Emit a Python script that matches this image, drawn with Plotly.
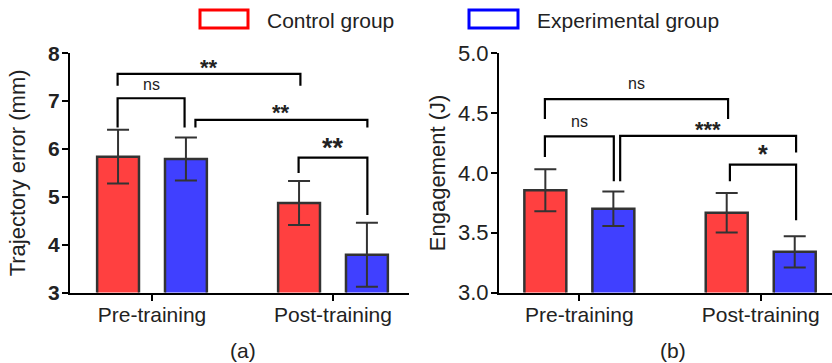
import plotly.graph_objects as go

# ---------------- data ----------------
categories = ["Pre-training", "Post-training"]
groups = ["Control group", "Experimental group"]

traj_control = [5.84, 4.87]
traj_control_err = [0.56, 0.46]
traj_exp = [5.79, 3.79]
traj_exp_err = [0.45, 0.67]

eng_control = [3.855, 3.667]
eng_control_err = [0.175, 0.165]
eng_exp = [3.70, 3.34]
eng_exp_err = [0.145, 0.13]

# significance brackets: (x_left, x_right, y_top, y_left_end, y_right_end, label, label_y, label_size)
traj_brackets = [
    (-0.19, 0.82, 7.57, 7.32, 7.32, "**", 7.78, 22),
    (-0.19, 0.18, 7.06, 6.45, 6.45, "ns", 7.34, 16),
    (0.24, 1.19, 6.61, 6.45, 6.45, "**", 6.85, 22),
    (0.81, 1.19, 5.82, 5.50, 4.62, "**", 6.11, 27),
]
eng_brackets = [
    (-0.19, 0.82, 4.617, 4.45, 4.45, "ns", 4.75, 16),
    (-0.19, 0.19, 4.305, 4.133, 3.93, "ns", 4.43, 16),
    (0.225, 1.195, 4.31, 3.93, 4.17, "***", 4.40, 22),
    (0.83, 1.195, 4.07, 3.93, 3.605, "*", 4.19, 25),
]

RED = "#FF4040"
BLUE = "#4040FF"
EDGE = "#333333"
FONT = "Liberation Sans, Arial, sans-serif"

xpos = list(range(len(categories)))

fig = go.Figure()


def add_bars(xa, ya, vals_c, err_c, vals_e, err_e):
    for name, vals, errs, col in [(groups[0], vals_c, err_c, RED), (groups[1], vals_e, err_e, BLUE)]:
        fig.add_trace(go.Bar(
            x=xpos, y=vals, name=name, xaxis=xa, yaxis=ya,
            marker=dict(color=col, line=dict(color=EDGE, width=2.5)),
            error_y=dict(type="data", array=errs, visible=True, color=EDGE,
                         thickness=2, width=11),
            showlegend=False,
        ))


add_bars("x", "y", traj_control, traj_control_err, traj_exp, traj_exp_err)
add_bars("x2", "y2", eng_control, eng_control_err, eng_exp, eng_exp_err)

shapes = []
annotations = []


def add_brackets(br, xref, yref):
    for x0, x1, yt, yl, yr, lab, ly, ls in br:
        shapes.append(dict(type="path", xref=xref, yref=yref,
                           path=f"M {x0},{yl} L {x0},{yt} L {x1},{yt} L {x1},{yr}",
                           line=dict(color="black", width=2.2)))
        star = lab.startswith("*")
        annotations.append(dict(x=(x0 + x1) / 2, y=ly, xref=xref, yref=yref,
                                text=lab, showarrow=False,
                                font=dict(family=FONT, size=ls, color="#222222",
                                          weight="bold" if star else "normal"),
                                xanchor="center", yanchor="middle",
                                yshift=-4 if star else 0))


add_brackets(traj_brackets, "x", "y")
add_brackets(eng_brackets, "x2", "y2")

# legend (manual, outlined boxes)
W, H = 832, 363
for (x0, x1), col, (tx, txt) in [((200, 248), "red", (265, groups[0])),
                                   ((469, 518), "blue", (535, groups[1]))]:
    shapes.append(dict(type="rect", xref="paper", yref="paper",
                       x0=x0 / W, x1=x1 / W, y0=1 - 28 / H, y1=1 - 10 / H,
                       line=dict(color=col, width=3), fillcolor="white"))
    annotations.append(dict(x=tx / W, y=1 - 20 / H, xref="paper", yref="paper",
                            text=txt, showarrow=False, xanchor="left", yanchor="middle",
                            font=dict(family=FONT, size=21, color="#222222")))

# panel labels
for lab, px in [("(a)", 243), ("(b)", 673)]:
    annotations.append(dict(x=px / W, y=1 - 350 / H, xref="paper", yref="paper",
                            text=lab, showarrow=False, xanchor="center", yanchor="middle",
                            font=dict(family=FONT, size=21, color="#222222")))

ydom = [1 - 292.5 / H, 1 - 53.3 / H]
axis_common = dict(showline=True, linecolor="black", linewidth=2, ticks="outside",
                   ticklen=6, tickwidth=2, tickcolor="black", showgrid=False,
                   zeroline=False, mirror=False, automargin=False)

fig.update_layout(
    width=W, height=H,
    margin=dict(l=0, r=0, t=0, b=0),
    paper_bgcolor="white", plot_bgcolor="white",
    barmode="group", bargap=0.25, bargroupgap=0.383,
    font=dict(family=FONT, color="#222222"),
    xaxis=dict(domain=[70 / W, 409 / W], range=[-0.453, 1.42], tickvals=xpos,
               ticktext=categories, tickfont=dict(size=21), ticklabelstandoff=-4,
               anchor="y", **axis_common),
    yaxis=dict(domain=ydom, range=[3, 8], dtick=1, anchor="x",
               tickfont=dict(size=21, weight="bold"), ticklabelstandoff=-2,
               title=dict(text="Trajectory error (mm)", font=dict(size=22), standoff=16),
               **axis_common),
    xaxis2=dict(domain=[499 / W, 1.0], range=[-0.443, 1.393], tickvals=xpos,
                ticktext=categories, tickfont=dict(size=21), ticklabelstandoff=-4,
                anchor="y2", **axis_common),
    yaxis2=dict(domain=ydom, range=[3, 5], dtick=0.5, tickformat=".1f", anchor="x2",
                tickfont=dict(size=22), ticklabelstandoff=-2,
                title=dict(text="Engagement (J)", font=dict(size=22), standoff=6),
                **axis_common),
    shapes=shapes,
    annotations=annotations,
)

fig.write_html("out.html", config={"displayModeBar": False},
               post_script="document.body.style.margin='0';")
